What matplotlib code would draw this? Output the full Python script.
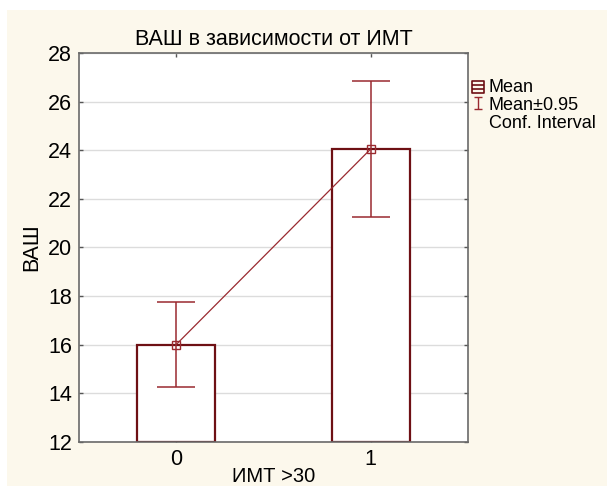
import numpy as np
import matplotlib
matplotlib.use("Agg")
from matplotlib import pyplot as plt
from matplotlib.path import Path
from matplotlib.patches import Rectangle

# data
groups = ["0", "1"]
means = [16.0, 24.05]
ci_low = [14.27, 21.27]
ci_high = [17.75, 26.83]

title = "ВАШ в зависимости от ИМТ"
xlabel = "ИМТ >30"
ylabel = "ВАШ"
yticks = [12, 14, 16, 18, 20, 22, 24, 26, 28]

plt.rcParams['font.family'] = ['Liberation Sans', 'DejaVu Sans']

bar_edge = '#6E1014'
err_col = '#9A2A30'
cream = '#FCF8EC'

fig = plt.figure(figsize=(6.07, 4.86), dpi=100)
fig.patch.set_facecolor('white')
# cream panel behind everything (white strip on top and left)
fig.patches.append(Rectangle((7 / 607, 0), 1, 1 - 10 / 486, transform=fig.transFigure,
                             facecolor=cream, edgecolor='none', zorder=-10))

ax = fig.add_axes([0.130, 0.091, 0.641, 0.800])
ax.set_facecolor('white')

x = np.arange(len(groups))
ax.bar(x, [m - 12 for m in means], bottom=12, width=0.4, facecolor='white',
       edgecolor=bar_edge, linewidth=1.6, zorder=2)
yerr = [np.array(means) - np.array(ci_low), np.array(ci_high) - np.array(means)]
ax.errorbar(x, means, yerr=yerr, fmt='none', ecolor=err_col, elinewidth=1.1,
            capsize=14, capthick=1.1, zorder=3)
ax.plot(x, means, color=err_col, linewidth=0.9, zorder=4)
ax.plot(x, means, linestyle='none', marker='s', markersize=5.5,
        markerfacecolor='none', markeredgecolor=err_col, markeredgewidth=1.0, zorder=5)

ax.set_xlim(-0.5, 1.5)
ax.set_ylim(12, 28)
ax.set_yticks(yticks)
ax.set_xticks(x)
ax.set_xticklabels(groups)
ax.grid(axis='y', color='#DCDCDC', linewidth=1.0, zorder=0)
ax.set_axisbelow(True)
ax.tick_params(direction='in', length=3, width=1, color='#555555', labelsize=15.5,
               top=True, right=True, pad=5)
for s in ax.spines.values():
    s.set_color('#6A6A6A')
    s.set_linewidth(1.2)

ax.set_title(title, fontsize=15.5, pad=6)
ax.set_xlabel(xlabel, fontsize=14.5, labelpad=-2)
ax.set_ylabel(ylabel, fontsize=15.5, labelpad=4)

# legend drawn by hand to the right of the axes
mean_marker = Path([(-1, -1), (1, -1), (1, 1), (-1, 1), (-1, -1),
                    (-1, 0.35), (1, 0.35), (-1, -0.35), (1, -0.35)],
                   [Path.MOVETO, Path.LINETO, Path.LINETO, Path.LINETO, Path.CLOSEPOLY,
                    Path.MOVETO, Path.LINETO, Path.MOVETO, Path.LINETO])
ci_marker = Path([(-0.6, 1), (0.6, 1), (0, 1), (0, -1), (-0.6, -1), (0.6, -1)],
                 [Path.MOVETO, Path.LINETO, Path.MOVETO, Path.LINETO, Path.MOVETO, Path.LINETO])
lx = 478 / 607
fig.lines.append(plt.Line2D([lx], [1 - 87 / 486], marker=mean_marker, markersize=8,
                            markerfacecolor='none', markeredgecolor=bar_edge,
                            markeredgewidth=1.2, transform=fig.transFigure))
fig.lines.append(plt.Line2D([lx], [1 - 103 / 486], marker=ci_marker, markersize=9,
                            markerfacecolor='none', markeredgecolor=err_col,
                            markeredgewidth=1.0, transform=fig.transFigure))
tx = 489 / 607
fig.text(tx, 1 - 87 / 486, "Mean", fontsize=13, va='center', ha='left')
fig.text(tx, 1 - 105 / 486, "Mean±0.95", fontsize=13, va='center', ha='left')
fig.text(tx, 1 - 123 / 486, "Conf. Interval", fontsize=13, va='center', ha='left')

fig.savefig("out.png", dpi=100, facecolor=fig.get_facecolor())
